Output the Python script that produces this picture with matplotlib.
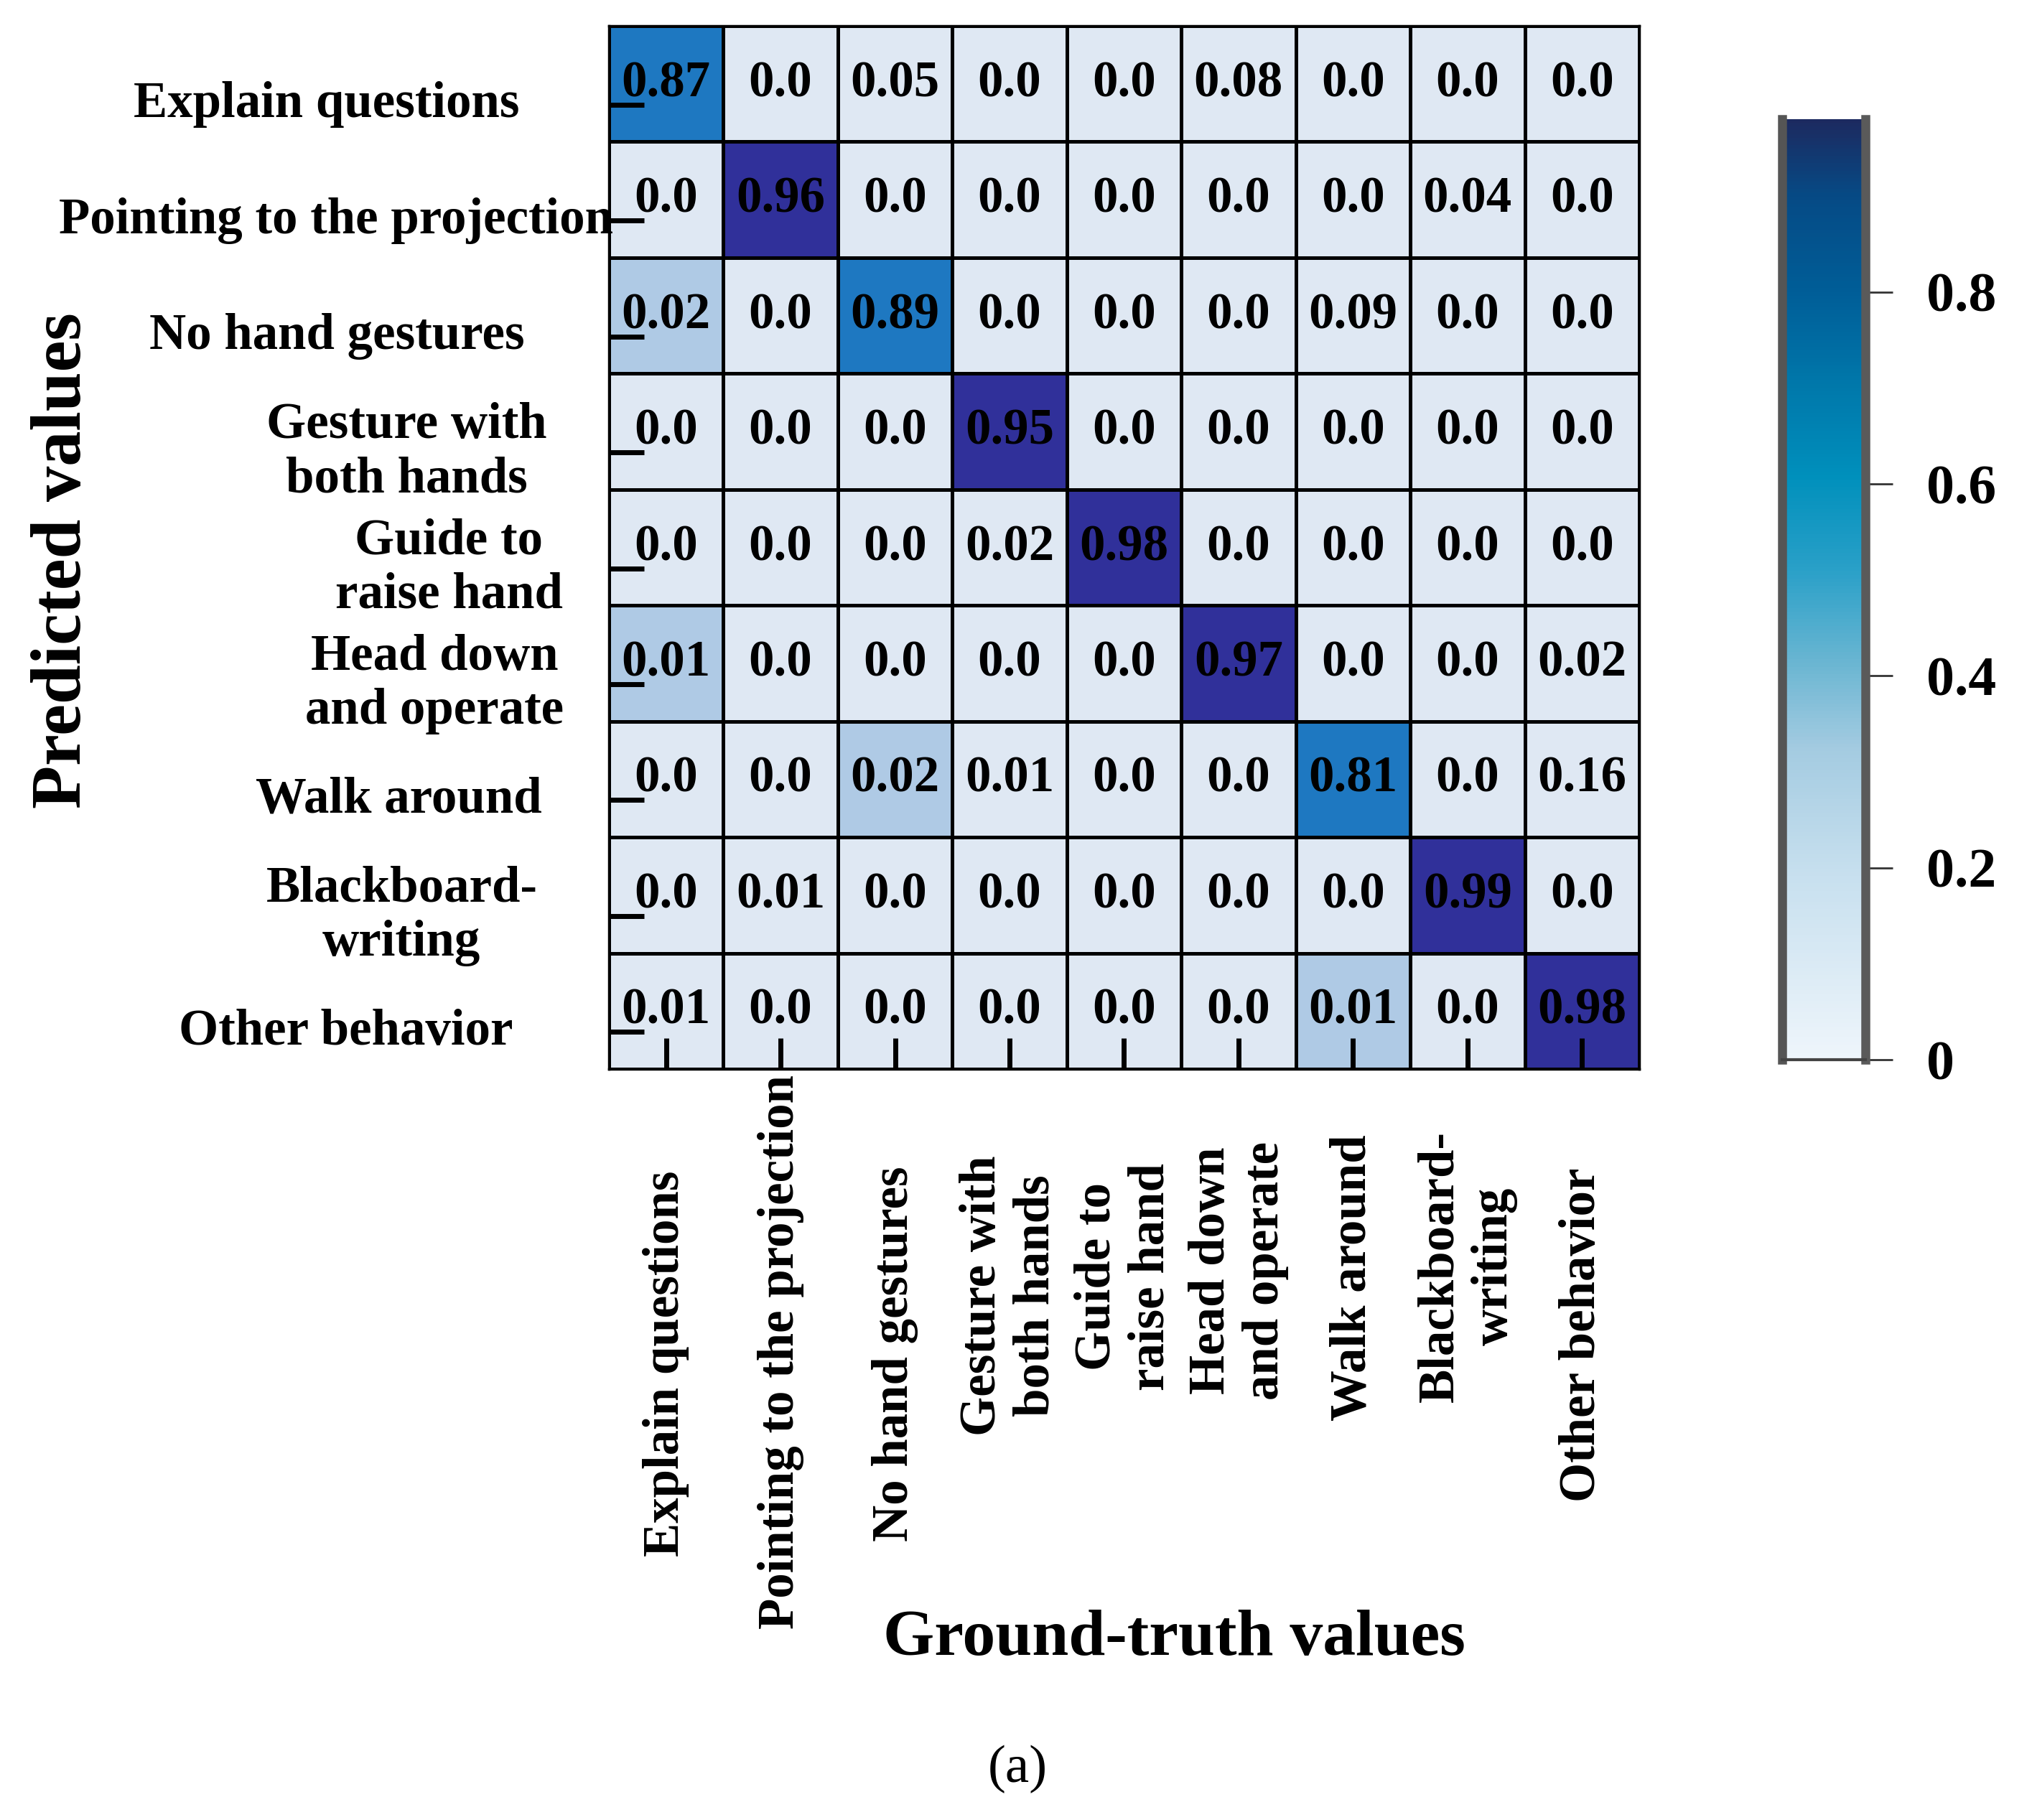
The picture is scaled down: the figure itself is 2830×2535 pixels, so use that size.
import numpy as np
import matplotlib
matplotlib.use('Agg')
import matplotlib.pyplot as plt
from matplotlib.colors import ListedColormap, LinearSegmentedColormap, Normalize
from matplotlib.cm import ScalarMappable

plt.rcParams['font.family'] = ['Liberation Serif', 'DejaVu Serif']
plt.rcParams['font.weight'] = 'bold'

classes = ['Explain questions', 'Pointing to the projection', 'No hand gestures',
           'Gesture with\nboth hands', 'Guide to\nraise hand', 'Head down\nand operate',
           'Walk around', 'Blackboard-\nwriting', 'Other behavior']

# rows = predicted, columns = ground truth
values = np.array([
    [0.87, 0.0, 0.05, 0.0, 0.0, 0.08, 0.0, 0.0, 0.0],
    [0.0, 0.96, 0.0, 0.0, 0.0, 0.0, 0.0, 0.04, 0.0],
    [0.02, 0.0, 0.89, 0.0, 0.0, 0.0, 0.09, 0.0, 0.0],
    [0.0, 0.0, 0.0, 0.95, 0.0, 0.0, 0.0, 0.0, 0.0],
    [0.0, 0.0, 0.0, 0.02, 0.98, 0.0, 0.0, 0.0, 0.0],
    [0.01, 0.0, 0.0, 0.0, 0.0, 0.97, 0.0, 0.0, 0.02],
    [0.0, 0.0, 0.02, 0.01, 0.0, 0.0, 0.81, 0.0, 0.16],
    [0.0, 0.01, 0.0, 0.0, 0.0, 0.0, 0.0, 0.99, 0.0],
    [0.01, 0.0, 0.0, 0.0, 0.0, 0.0, 0.01, 0.0, 0.98],
])

# colour class of each cell as printed (0 pale, 1 light, 2 mid blue, 3 navy)
shade = np.array([
    [2, 0, 0, 0, 0, 0, 0, 0, 0],
    [0, 3, 0, 0, 0, 0, 0, 0, 0],
    [1, 0, 2, 0, 0, 0, 0, 0, 0],
    [0, 0, 0, 3, 0, 0, 0, 0, 0],
    [0, 0, 0, 0, 3, 0, 0, 0, 0],
    [1, 0, 0, 0, 0, 3, 0, 0, 0],
    [0, 0, 1, 0, 0, 0, 2, 0, 0],
    [0, 0, 0, 0, 0, 0, 0, 3, 0],
    [0, 0, 0, 0, 0, 0, 1, 0, 3],
])

cb_ticks = [0, 0.2, 0.4, 0.6, 0.8]

# label placement (axes fraction) to mimic the original layout
ylab_x = [-0.274, -0.265, -0.264, -0.196, -0.155, -0.169, -0.204, -0.201, -0.255]
xlab_y = [-0.282, -0.271, -0.273, -0.217, -0.199, -0.193, -0.200, -0.189, -0.255]

cell_cmap = ListedColormap(['#dfe8f3', '#afcae5', '#1e78c1', '#30309a'])
bar_cmap = LinearSegmentedColormap.from_list('bar', [
    (0.0, '#eef5fb'), (0.2, '#c6dfee'), (0.33, '#a4cbe1'), (0.42, '#6bb6d2'),
    (0.52, '#2aa0c8'), (0.62, '#0090bc'), (0.72, '#0077aa'), (0.82, '#005d97'),
    (0.92, '#064a85'), (1.0, '#1c2a60')])

fig = plt.figure(figsize=(28.3, 25.35), dpi=100)
ax = fig.add_axes([0.2996, 0.4126, 0.5071, 0.5732])

n = len(classes)
ax.pcolormesh(np.arange(n + 1), np.arange(n + 1), shade, cmap=cell_cmap,
              vmin=-0.5, vmax=3.5, edgecolors='black', linewidth=2.2)
ax.set_xlim(0, n)
ax.set_ylim(n, 0)

for i in range(n):
    for j in range(n):
        ax.text(j + 0.5, i + 0.5, f'{values[i, j]}', ha='center', va='center',
                fontsize=51, fontweight='bold', color='black')

ax.set_xticks(np.arange(n) + 0.5)
ax.set_yticks(np.arange(n) + 0.68)
ax.set_xticklabels([])
ax.set_yticklabels([])
ax.tick_params(axis='x', direction='in', length=31, width=5, color='black')
ax.tick_params(axis='y', direction='in', length=35, width=5, color='black')
for s in ax.spines.values():
    s.set_linewidth(2.5)

for i, lab in enumerate(classes):
    ax.text(ylab_x[i], 1 - (i + 0.68) / n, lab, transform=ax.transAxes,
            ha='center', va='center', multialignment='center',
            fontsize=51, fontweight='bold')
    ax.text((i + 0.5) / n, xlab_y[i], lab, transform=ax.transAxes, rotation=90,
            ha='center', va='center', multialignment='center',
            fontsize=51, fontweight='bold')

fig.text(0.031, 0.692, 'Predicted values', rotation=90, ha='center', va='center',
         fontsize=71, fontweight='bold')
fig.text(0.578, 0.0994, 'Ground-truth values', ha='center', va='center',
         fontsize=66, fontweight='bold')
fig.text(0.5007, 0.028, '(a)', ha='center', va='center', fontsize=54,
         fontweight='normal')

cax = fig.add_axes([0.877, 0.4177, 0.041, 0.5168])
sm = ScalarMappable(norm=Normalize(0, 0.98), cmap=bar_cmap)
cb = fig.colorbar(sm, cax=cax)
cb.set_ticks(cb_ticks)
cb.set_ticklabels(['0' if t == 0 else f'{t:.1f}' for t in cb_ticks])
# only the side edges are framed heavily, bottom with a thin line
cb.outline.set_visible(False)
cax.axvline(cax.get_xlim()[0], color='#555555', lw=9, clip_on=False)
cax.axvline(cax.get_xlim()[1], color='#5a5a5a', lw=9, clip_on=False)
cax.axhline(0, color='#444444', lw=3, clip_on=False)
cax.tick_params(direction='out', length=27, width=2, color='#333333', pad=34,
                labelsize=56)
for t in cax.get_yticklabels():
    t.set_fontweight('bold')

fig.savefig('out.png', dpi=100)
